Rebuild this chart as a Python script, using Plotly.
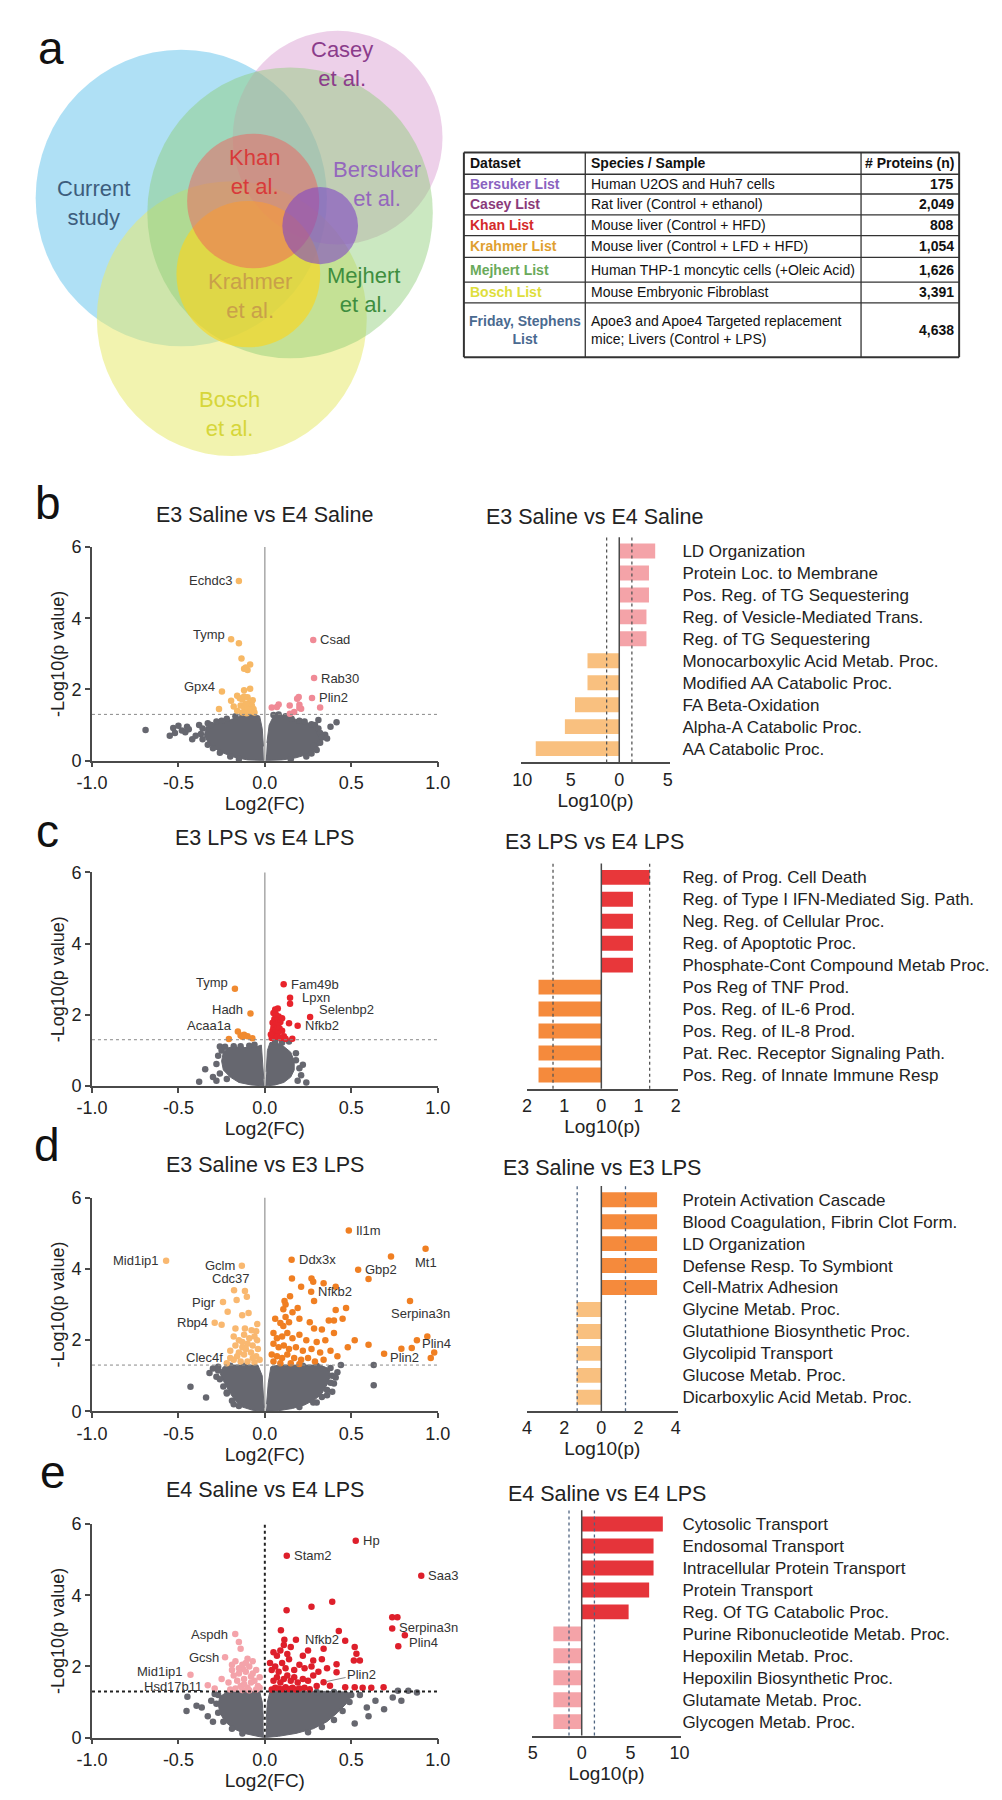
import plotly.graph_objects as go

W, H = 1002, 1800
def PX(p): return p / W
def PY(p): return 1 - p / H

FONT = "Liberation Sans, Arial, Helvetica, sans-serif"
TXT = "#222222"
AXC = "#4a4a4a"
GRAY = "#66676f"

# ============================ DATA ============================
# ---- panel a : table ----
table_headers = ["Dataset", "Species / Sample", "# Proteins (n)"]
table_datasets = ["Bersuker List", "Casey List", "Khan List", "Krahmer List",
                  "Mejhert List", "Bosch List", "Friday, Stephens<br>List"]
table_samples = ["Human U2OS and Huh7 cells", "Rat liver (Control + ethanol)",
                 "Mouse liver (Control + HFD)", "Mouse liver (Control + LFD + HFD)",
                 "Human THP-1 moncytic cells (+Oleic Acid)", "Mouse Embryonic Fibroblast",
                 "Apoe3 and Apoe4 Targeted replacement<br>mice; Livers (Control + LPS)"]
table_counts = ["175", "2,049", "808", "1,054", "1,626", "3,391", "4,638"]

# ---- panel a : venn sets ----
venn_labels = ["Current<br>study", "Bosch<br>et al.", "Casey<br>et al.", "Mejhert<br>et al.",
               "Krahmer<br>et al.", "Khan<br>et al.", "Bersuker<br>et al."]

# ---- volcano b : E3 Saline vs E4 Saline ----
b_dn_x = [-0.15, -0.195, -0.15, -0.135, -0.085, -0.12, -0.10, -0.11, -0.085, -0.12, -0.248, -0.195,
          -0.16, -0.145, -0.13, -0.12, -0.10, -0.09, -0.075, -0.065, -0.14, -0.12, -0.10, -0.085,
          -0.06, -0.16, -0.13, -0.11, -0.265, -0.18, -0.07, -0.105]
b_dn_y = [5.05, 3.41, 3.30, 2.87, 2.70, 2.58, 2.55, 2.62, 2.02, 1.98, 1.94, 1.68,
          1.82, 1.75, 1.72, 1.80, 1.78, 1.62, 1.55, 1.45, 1.55, 1.50, 1.45, 1.38,
          1.35, 1.40, 1.35, 1.60, 1.45, 1.52, 1.70, 1.33]
b_dn_lab = ["Echdc3", "Tymp"] + [""] * 8 + ["Gpx4"] + [""] * 21
b_up_x = [0.28, 0.285, 0.273, 0.196, 0.187, 0.144, 0.20, 0.21, 0.17, 0.145, 0.07, 0.04, 0.08, 0.32, 0.20]
b_up_y = [3.39, 2.32, 1.76, 1.79, 1.74, 1.55, 1.57, 1.46, 1.37, 1.32, 1.51, 1.49, 1.58, 1.49, 1.48]
b_up_lab = ["Csad", "Rab30", "Plin2"] + [""] * 12
b_ns_x = [-0.69, -0.55, -0.53, -0.50, -0.48, -0.46, -0.52, -0.45, -0.40, -0.38, -0.42, -0.44,
          -0.33, -0.28, -0.22, -0.17, -0.13, -0.09, -0.36, -0.37, -0.36, -0.33, -0.30, -0.26, -0.20,
          -0.15, -0.31, -0.25,
          0.415, 0.31, 0.349, 0.283, 0.08, 0.12, 0.155, 0.20, 0.23, 0.27, 0.29, 0.31, 0.32, 0.33,
          0.32, 0.30, 0.27, 0.24, 0.15, 0.36, 0.38, 0.05]
b_ns_y = [0.86, 0.70, 0.92, 0.98, 0.85, 0.80, 0.78, 0.95, 0.70, 1.00, 0.60, 0.88,
          1.05, 1.10, 1.18, 1.25, 1.30, 1.28, 0.90, 0.75, 0.60, 0.45, 0.35, 0.22, 0.12,
          0.05, 1.00, 1.12,
          1.08, 1.14, 0.73, 0.41, 1.30, 1.25, 1.18, 1.12, 1.10, 1.02, 1.00, 0.90, 0.78, 0.65,
          0.50, 0.30, 0.20, 0.12, 0.04, 0.62, 0.95, 1.28]
b_core_x = [-0.005, -0.10, -0.18, -0.26, -0.32, -0.35, -0.34, -0.28, -0.20, -0.12, -0.06, -0.03,
            -0.015, -0.008, None,
            0.005, 0.10, 0.18, 0.25, 0.30, 0.33, 0.33, 0.30, 0.24, 0.16, 0.09, 0.05, 0.025, 0.012]
b_core_y = [0.0, 0.02, 0.10, 0.25, 0.45, 0.70, 0.95, 1.05, 1.15, 1.28, 1.30, 1.25, 0.90, 0.40, None,
            0.0, 0.02, 0.08, 0.18, 0.35, 0.55, 0.75, 0.95, 1.08, 1.18, 1.28, 1.25, 1.00, 0.50]

# ---- volcano c : E3 LPS vs E4 LPS ----
c_dn_x = [-0.173, -0.083, -0.156, -0.208, -0.14, -0.12, -0.10, -0.072, -0.13]
c_dn_y = [2.73, 2.04, 1.53, 1.32, 1.42, 1.44, 1.40, 1.34, 1.38]
c_dn_lab = ["Tymp", "Hadh", "Acaa1a"] + [""] * 6
c_up_x = [0.109, 0.146, 0.146, 0.262, 0.19, 0.14, 0.159, 0.06, 0.075, 0.05, 0.065, 0.08, 0.055, 0.07,
          0.09, 0.045, 0.06, 0.075, 0.05, 0.065, 0.085, 0.10, 0.045, 0.06, 0.075, 0.05, 0.07, 0.09,
          0.11, 0.12, 0.04, 0.10, 0.035]
c_up_y = [2.86, 2.48, 2.31, 1.94, 1.69, 1.76, 1.33, 2.15, 2.18, 2.05, 2.00, 1.95, 1.88, 1.85,
          1.80, 1.78, 1.72, 1.70, 1.65, 1.60, 1.62, 1.55, 1.55, 1.50, 1.48, 1.42, 1.38, 1.35,
          1.40, 1.33, 1.35, 1.90, 1.45]
c_up_lab = ["Fam49b", "Lpxn", "", "Selenbp2", "Nfkb2"] + [""] * 28
c_ns_x = [-0.345, -0.26, -0.30, -0.28, -0.27, -0.25, -0.23, -0.18, -0.14, -0.09, -0.06, -0.38, -0.28,
          -0.26, -0.22, 0.18, 0.20, 0.21, 0.19, 0.18, 0.14, 0.10, 0.06, 0.24, 0.22]
c_ns_y = [0.47, 1.11, 0.25, 0.62, 0.85, 1.00, 1.10, 1.12, 1.12, 1.13, 1.16, 0.12, 0.15,
          0.35, 0.20, 0.72, 0.50, 0.30, 0.15, 0.92, 1.25, 1.22, 1.25, 0.10, 0.60]
c_core_x = [-0.004, -0.08, -0.15, -0.20, -0.24, -0.25, -0.24, -0.21, -0.12, -0.05, -0.02, -0.012,
            -0.006, None,
            0.004, 0.06, 0.11, 0.15, 0.17, 0.17, 0.15, 0.10, 0.06, 0.03, 0.015, 0.008]
c_core_y = [0.0, 0.03, 0.10, 0.25, 0.45, 0.70, 0.95, 1.08, 1.08, 1.10, 1.15, 0.70, 0.20, None,
            0.0, 0.03, 0.10, 0.25, 0.45, 0.70, 0.95, 1.15, 1.22, 1.22, 1.00, 0.40]

# ---- volcano d : E3 Saline vs E3 LPS ----
d_dn_x = [-0.571, -0.133, -0.178, -0.115, -0.242, -0.29, -0.25, -0.163, -0.104, -0.215, -0.131, -0.094,
          -0.044, -0.17, -0.115, -0.077, -0.20, -0.18, -0.15, -0.12, -0.09, -0.06, -0.17, -0.13, -0.10,
          -0.07, -0.04, -0.15, -0.12, -0.08, -0.05, -0.18, -0.14, -0.10, -0.06, -0.03, -0.16, -0.11,
          -0.07, -0.20, -0.13, -0.045, -0.05, -0.22]
d_dn_y = [4.23, 4.09, 3.40, 3.38, 3.07, 2.49, 2.43, 3.13, 3.22, 2.80, 2.70, 2.76,
          2.45, 2.33, 2.33, 2.28, 1.50, 2.10, 2.00, 2.15, 2.05, 2.10, 1.85, 1.80, 1.90,
          1.85, 1.75, 1.65, 1.60, 1.65, 1.55, 1.45, 1.40, 1.40, 1.38, 1.45, 1.55, 1.75,
          1.50, 1.70, 1.95, 2.00, 2.25, 1.35]
d_dn_lab = ["Mid1ip1", "Gclm", "Cdc37", "", "Pigr", "Rbp4"] + [""] * 10 + ["Clec4f"] + [""] * 27
d_up_x = [0.486, 0.155, 0.54, 0.93, 0.73, 0.60, 0.268, 0.84, 0.88, 0.69,
          0.157, 0.27, 0.28, 0.34, 0.41, 0.21, 0.146, 0.114, 0.12, 0.16, 0.107, 0.19, 0.285, 0.41,
          0.47, 0.26, 0.37, 0.40, 0.45, 0.09, 0.107, 0.14, 0.285, 0.40, 0.60, 0.85, 0.79, 0.96,
          0.05, 0.07, 0.10, 0.13, 0.16, 0.20, 0.24, 0.30, 0.35, 0.05, 0.08, 0.11, 0.14, 0.18, 0.22,
          0.27, 0.32, 0.38, 0.04, 0.07, 0.10, 0.13, 0.17, 0.21, 0.25, 0.29, 0.34, 0.05, 0.09, 0.15,
          0.20, 0.42, 0.48, 0.52, 0.94, 0.98, 0.12, 0.06, 0.20, 0.33]
d_up_y = [5.08, 4.26, 3.98, 4.57, 4.35, 3.72, 3.36, 3.10, 2.00, 1.62,
          3.73, 3.73, 3.64, 3.60, 3.50, 3.50, 3.23, 3.10, 3.00, 2.78, 2.87, 2.90, 3.10, 2.85,
          2.90, 2.50, 2.55, 2.55, 2.60, 2.48, 2.40, 2.50, 2.33, 2.20, 1.87, 1.78, 1.76, 1.50,
          2.20, 2.05, 2.10, 2.20, 2.05, 2.15, 2.00, 1.95, 2.00, 1.90, 1.80, 1.85, 1.75, 1.80, 1.70,
          1.75, 1.65, 1.70, 1.60, 1.55, 1.50, 1.60, 1.50, 1.45, 1.50, 1.40, 1.45, 1.40, 1.35, 1.35,
          1.33, 1.55, 1.80, 2.00, 2.10, 1.65, 2.65, 2.60, 2.60, 2.30]
d_up_lab = ["Il1m", "Ddx3x", "Gbp2", "Mt1", "", "", "Nfkb2", "Serpina3n", "Plin4", "Plin2"] + [""] * 68
d_ns_x = [-0.43, -0.34, -0.32, -0.28, -0.22, -0.30, -0.27, -0.18, -0.27, -0.26, -0.24, -0.22, -0.19,
          -0.15, -0.20, -0.12,
          0.63, 0.63, 0.44, 0.40, 0.39, 0.42, 0.41, 0.36, 0.30, 0.38, 0.39, 0.38, 0.36, 0.33, 0.28,
          0.20, 0.30, 0.22]
d_ns_y = [0.69, 0.39, 1.08, 0.97, 0.53, 1.20, 1.25, 0.20, 1.15, 0.90, 0.70, 0.50, 0.30,
          0.15, 1.28, 1.28,
          1.30, 0.73, 1.30, 0.78, 0.55, 1.10, 0.95, 0.45, 0.25, 1.22, 1.00, 0.80, 0.60, 0.40, 0.25,
          0.12, 1.28, 1.28]
d_core_x = [-0.004, -0.07, -0.13, -0.17, -0.20, -0.23, -0.25, -0.26, -0.24, -0.18, -0.10, -0.04,
            -0.015, -0.008, -0.004, None,
            0.006, 0.08, 0.16, 0.23, 0.29, 0.33, 0.36, 0.38, 0.37, 0.32, 0.20, 0.08, 0.035, 0.02, 0.01]
d_core_y = [0.0, 0.03, 0.12, 0.30, 0.50, 0.75, 0.95, 1.10, 1.25, 1.30, 1.30, 1.30, 1.00, 0.50, 0.10, None,
            0.0, 0.02, 0.08, 0.18, 0.33, 0.50, 0.75, 1.00, 1.20, 1.30, 1.30, 1.30, 1.25, 0.80, 0.20]

# ---- volcano e : E4 Saline vs E4 LPS ----
e_dn_x = [-0.171, -0.23, -0.43, -0.33, -0.15, -0.14, -0.10, -0.126, -0.25, -0.29,
          -0.19, -0.17, -0.15, -0.13, -0.11, -0.09, -0.07, -0.05, -0.03, -0.18, -0.16, -0.12,
          -0.08, -0.06, -0.04, -0.14, -0.10, -0.20, -0.17, -0.13, -0.09, -0.05, -0.11, -0.15,
          -0.07, -0.21, -0.19, -0.12, -0.08, -0.03]
e_dn_y = [2.91, 2.26, 1.77, 1.47, 2.69, 2.50, 2.22, 1.93, 1.65, 1.38,
          2.05, 2.15, 1.95, 2.05, 1.85, 2.00, 1.80, 1.90, 1.70, 1.75, 1.60, 1.65,
          1.55, 1.60, 1.45, 1.45, 1.40, 1.35, 1.38, 1.34, 1.33, 1.35, 2.10, 1.80,
          2.15, 1.55, 1.90, 1.50, 1.72, 1.40]
e_dn_lab = ["Aspdh", "Gcsh", "Mid1ip1", "Hsd17b11"] + [""] * 36
e_up_x = [0.526, 0.127, 0.905, 0.737, 0.772, 0.465, 0.34,
          0.126, 0.27, 0.39, 0.737, 0.767, 0.81, 0.093, 0.428, 0.113, 0.18, 0.52, 0.53, 0.515,
          0.55, 0.34, 0.25, 0.28, 0.415, 0.415, 0.465, 0.52, 0.566, 0.616, 0.687, 0.377,
          0.04, 0.06, 0.08, 0.10, 0.12, 0.14, 0.16, 0.18, 0.20, 0.23, 0.26, 0.30,
          0.05, 0.07, 0.09, 0.11, 0.13, 0.15, 0.17, 0.19, 0.22, 0.25, 0.28,
          0.04, 0.06, 0.08, 0.10, 0.12, 0.14, 0.17, 0.20, 0.23, 0.27, 0.31, 0.36,
          0.07, 0.09, 0.11, 0.13, 0.15, 0.03, 0.05, 0.22, 0.33]
e_up_y = [5.53, 5.11, 4.55, 3.07, 2.57, 2.72, 1.56,
          3.58, 3.68, 3.82, 3.38, 3.38, 2.88, 3.02, 3.00, 2.75, 2.75, 2.55, 2.36, 2.17,
          2.17, 2.50, 2.45, 2.17, 2.06, 1.84, 1.42, 1.42, 1.40, 1.40, 1.42, 1.46,
          1.35, 1.40, 1.38, 1.36, 1.42, 1.37, 1.40, 1.35, 1.38, 1.40, 1.36, 1.45,
          1.60, 1.70, 1.55, 1.65, 1.75, 1.60, 1.70, 1.55, 1.65, 1.60, 1.75,
          1.90, 2.00, 1.85, 2.10, 1.95, 2.20, 1.90, 2.05, 1.95, 2.00, 1.85, 1.95,
          2.30, 2.45, 2.60, 2.35, 2.55, 2.10, 2.40, 2.30, 2.20]
e_up_lab = ["Hp", "Stam2", "Saa3", "Serpina3n", "Plin4", "Nfkb2", "Plin2"] + [""] * 69
e_ns_x = [-0.448, -0.453, -0.395, -0.365, -0.29, -0.31, -0.33, -0.30, -0.27, -0.28, -0.27, -0.24,
          -0.19, -0.13, -0.20, -0.12,
          0.64, 0.69, 0.77, 0.88, 0.83, 0.59, 0.74, 0.79, 0.55, 0.60, 0.52, 0.50, 0.49, 0.45, 0.40,
          0.33, 0.25, 0.40, 0.30, 0.15]
e_ns_y = [1.15, 0.75, 0.90, 0.85, 1.23, 1.04, 0.60, 0.45, 1.20, 0.95, 0.70, 0.45,
          0.25, 0.12, 1.28, 1.28,
          1.04, 0.80, 1.32, 1.27, 1.32, 0.85, 1.13, 1.04, 1.20, 0.60, 0.40, 1.20, 1.00, 0.75, 0.50,
          0.30, 0.15, 1.28, 1.28, 1.28]
e_core_x = [-0.005, -0.06, -0.12, -0.18, -0.23, -0.26, -0.27, -0.26, -0.22, -0.10, -0.03, -0.015,
            -0.008, None,
            0.005, 0.08, 0.18, 0.28, 0.36, 0.42, 0.47, 0.50, 0.48, 0.35, 0.10, 0.03, 0.015, 0.008]
e_core_y = [0.0, 0.05, 0.12, 0.25, 0.45, 0.70, 0.95, 1.15, 1.28, 1.30, 1.30, 1.00, 0.50, None,
            0.0, 0.04, 0.12, 0.25, 0.45, 0.70, 0.95, 1.15, 1.28, 1.30, 1.30, 1.30, 1.00, 0.50]

# ---- GO bar charts ----
bar_b_terms = ["LD Organization", "Protein Loc. to Membrane", "Pos. Reg. of TG Sequestering",
               "Reg. of Vesicle-Mediated Trans.", "Reg. of TG Sequestering",
               "Monocarboxylic Acid Metab. Proc.", "Modified AA Catabolic Proc.", "FA Beta-Oxidation",
               "Alpha-A Catabolic Proc.", "AA Catabolic Proc."]
bar_b_vals = [3.7, 3.06, 3.06, 2.8, 2.8, -3.27, -3.27, -4.56, -5.6, -8.6]
bar_c_terms = ["Reg. of Prog. Cell Death", "Reg. of Type I IFN-Mediated Sig. Path.",
               "Neg. Reg. of Cellular Proc.", "Reg. of Apoptotic Proc.",
               "Phosphate-Cont Compound Metab Proc.", "Pos Reg of TNF Prod.", "Pos. Reg. of IL-6 Prod.",
               "Pos. Reg. of IL-8 Prod.", "Pat. Rec. Receptor Signaling Path.",
               "Pos. Reg. of Innate Immune Resp"]
bar_c_vals = [1.3, 0.85, 0.85, 0.85, 0.85, -1.69, -1.69, -1.69, -1.69, -1.69]
bar_d_terms = ["Protein Activation Cascade", "Blood Coagulation, Fibrin Clot Form.", "LD Organization",
               "Defense Resp. To Symbiont", "Cell-Matrix Adhesion", "Glycine Metab. Proc.",
               "Glutathione Biosynthetic Proc.", "Glycolipid Transport", "Glucose Metab. Proc.",
               "Dicarboxylic Acid Metab. Proc."]
bar_d_vals = [3.0, 3.0, 3.0, 3.0, 3.0, -1.33, -1.33, -1.33, -1.33, -1.33]
bar_e_terms = ["Cytosolic Transport", "Endosomal Transport", "Intracellular Protein Transport",
               "Protein Transport", "Reg. Of TG Catabolic Proc.", "Purine Ribonucleotide Metab. Proc.",
               "Hepoxilin Metab. Proc.", "Hepoxilin Biosynthetic Proc.", "Glutamate Metab. Proc.",
               "Glycogen Metab. Proc."]
bar_e_vals = [8.3, 7.35, 7.35, 6.9, 4.8, -2.9, -2.9, -2.9, -2.9, -2.9]

volcano_titles = ["E3 Saline vs E4 Saline", "E3 LPS vs E4 LPS", "E3 Saline vs E3 LPS", "E4 Saline vs E4 LPS"]
x_ticks = [-1.0, -0.5, 0.0, 0.5, 1.0]
y_ticks = [0, 2, 4, 6]
SIG = 1.3   # -log10(0.05)

# ============================ STYLE / LAYOUT ============================
fig = go.Figure()
shapes, annots = [], []

def aid(n):
    return "" if n == 1 else str(n)

def ann(px, py, text, size=14, color=TXT, xa="center", ya="middle", bold=False, align="left"):
    if bold:
        text = "<b>" + text + "</b>"
    annots.append(dict(x=PX(px), y=PY(py), xref="paper", yref="paper", text=text, showarrow=False,
                       xanchor=xa, yanchor=ya, align=align, font=dict(size=size, color=color, family=FONT)))

# ---- Venn (geometry: cx, cy, r in px; fill) ----
venn_geom = [(162, 182, 150, "rgba(110,198,236,0.55)"),
             (214, 304, 139, "rgba(232,234,110,0.55)"),
             (323, 121, 108, "rgba(214,150,206,0.45)"),
             (274, 197, 147, "rgba(140,204,118,0.45)"),
             (231, 259, 74, "rgba(255,214,20,0.60)"),
             (236, 185, 68, "rgba(240,96,92,0.50)"),
             (305, 210, 39, "rgba(128,70,196,0.60)")]
venn_label_pos = [(72, 187, "#3d5d7c"), (212, 400, "#d6d63a"), (327, 47, "#8b3c8b"),
                  (350, 275, "#3e8e3e"), (233, 281, "#c9a04a"), (237, 156, "#d83a3a"),
                  (364, 168, "#9467bd")]
for (cx, cy, r, col) in venn_geom:
    shapes.append(dict(type="circle", xref="paper", yref="paper", x0=PX(cx - r), x1=PX(cx + r),
                       y0=PY(cy + r), y1=PY(cy - r), fillcolor=col, line=dict(width=0), layer="below"))
for txt, (lx, ly, lc) in zip(venn_labels, venn_label_pos):
    ann(lx, ly, txt, size=22, color=lc, align="center")

# ---- table ----
col_x = [453, 578, 862, 963]
row_y = [136, 158, 178, 199, 220, 242, 267, 288, 343]
ds_colors = ["#8a63c0", "#8a3a7a", "#d42a2a", "#e0a030", "#6aaa5a", "#dede3c", "#4a6a90"]
for yv in row_y:
    w = 2 if yv in (row_y[0], row_y[-1]) else 1.3
    shapes.append(dict(type="line", xref="paper", yref="paper", x0=PX(col_x[0]), x1=PX(col_x[-1]),
                       y0=PY(yv), y1=PY(yv), line=dict(color="#333", width=w)))
for xv in col_x:
    w = 2 if xv in (col_x[0], col_x[-1]) else 1.3
    shapes.append(dict(type="line", xref="paper", yref="paper", x0=PX(xv), x1=PX(xv),
                       y0=PY(row_y[0]), y1=PY(row_y[-1]), line=dict(color="#333", width=w)))
hy = (row_y[0] + row_y[1]) / 2
ann(col_x[0] + 4, hy, table_headers[0], 14, "#111", "left", bold=True)
ann(col_x[1] + 4, hy, table_headers[1], 14, "#111", "left", bold=True)
ann(col_x[3] - 3, hy, table_headers[2], 14, "#111", "right", bold=True)
for i in range(len(table_datasets)):
    cy = (row_y[i + 1] + row_y[i + 2]) / 2
    if i == len(table_datasets) - 1:
        ann((col_x[0] + col_x[1]) / 2, cy, table_datasets[i], 14, ds_colors[i], "center", bold=True, align="center")
    else:
        ann(col_x[0] + 4, cy, table_datasets[i], 14, ds_colors[i], "left", bold=True)
    ann(col_x[1] + 4, cy, table_samples[i], 14, "#111", "left")
    ann(col_x[3] - 3, cy, table_counts[i], 14, "#111", "right", bold=True)

# panel letters
for letter, (lx, ly) in zip("abcde", [(28, 30), (25, 490), (24, 822), (24, 1140), (30, 1470)]):
    ann(lx, ly, letter, 46, "#111")

# ---- volcano panels ----
volc = [
    (b_core_x, b_core_y, b_ns_x, b_ns_y, b_dn_x, b_dn_y, b_dn_lab, b_up_x, b_up_y, b_up_lab),
    (c_core_x, c_core_y, c_ns_x, c_ns_y, c_dn_x, c_dn_y, c_dn_lab, c_up_x, c_up_y, c_up_lab),
    (d_core_x, d_core_y, d_ns_x, d_ns_y, d_dn_x, d_dn_y, d_dn_lab, d_up_x, d_up_y, d_up_lab),
    (e_core_x, e_core_y, e_ns_x, e_ns_y, e_dn_x, e_dn_y, e_dn_lab, e_up_x, e_up_y, e_up_lab),
]
volc_colors = [("#f7b865", "#f08a96"), ("#f08a30", "#e8242c"), ("#f9b870", "#f07f22"), ("#f4a3aa", "#de1f2b")]
volc_top = [535, 864, 1193, 1523]
VH = 216
title_y = [503, 829, 1160, 1489]
lab_style = {
    ("b", "Tymp"): ("right", "middle", -4, 5), ("b", "Gpx4"): ("right", "middle", -5, 5),
    ("c", "Tymp"): ("right", "middle", -5, 6), ("c", "Hadh"): ("right", "middle", -5, 4),
    ("c", "Acaa1a"): ("right", "middle", -4, 6), ("c", "Lpxn"): ("left", "middle", 10, 0),
    ("c", "Selenbp2"): ("left", "middle", 7, 7),
    ("d", "Cdc37"): ("center", "bottom", -3, 2), ("d", "Mt1"): ("center", "top", 0, -4),
    ("d", "Serpina3n"): ("center", "top", 10, -3), ("d", "Plin4"): ("left", "middle", 3, -3),
    ("d", "Plin2"): ("left", "middle", 4, -4),
    ("e", "Nfkb2"): ("right", "middle", -4, 1), ("e", "Plin4"): ("left", "middle", 9, 4),
    ("e", "Serpina3n"): ("left", "middle", 5, 1), ("e", "Hsd17b11"): ("right", "middle", -4, -1),
    ("e", "Mid1ip1"): ("right", "middle", -5, 3), ("e", "Gcsh"): ("right", "middle", -4, 0),
}
leader = {("e", "Plin2"): (38, -8)}
letters = "bcde"
for k, (cx_, cy_, nx, ny, dx, dy, dl, ux, uy, ul) in enumerate(volc):
    n = k + 1
    xa, ya = "x" + aid(n), "y" + aid(n)
    top = volc_top[k]
    fig.add_trace(go.Scatter(x=cx_, y=cy_, mode="lines", fill="toself", fillcolor=GRAY,
                             line=dict(width=1, color=GRAY), hoverinfo="skip", showlegend=False,
                             xaxis=xa, yaxis=ya))
    fig.add_trace(go.Scatter(x=nx, y=ny, mode="markers", marker=dict(size=6.5, color=GRAY),
                             showlegend=False, xaxis=xa, yaxis=ya, cliponaxis=False))
    fig.add_trace(go.Scatter(x=dx, y=dy, mode="markers", marker=dict(size=6.5, color=volc_colors[k][0]),
                             showlegend=False, xaxis=xa, yaxis=ya, cliponaxis=False))
    fig.add_trace(go.Scatter(x=ux, y=uy, mode="markers", marker=dict(size=6.5, color=volc_colors[k][1]),
                             showlegend=False, xaxis=xa, yaxis=ya, cliponaxis=False))
    for xs, ys, ls, side in ((dx, dy, dl, "L"), (ux, uy, ul, "R")):
        for xv, yv, lv in zip(xs, ys, ls):
            if not lv:
                continue
            key = (letters[k], lv)
            if key in leader:
                axp, ayp = leader[key]
                annots.append(dict(x=xv, y=yv, xref=xa, yref=ya, text=lv, showarrow=True,
                                   arrowhead=0, arrowwidth=1, arrowcolor="#888", ax=axp, ay=ayp,
                                   standoff=3, font=dict(size=13, color="#333", family=FONT)))
                continue
            st = lab_style.get(key, ("right", "middle", -5, 0) if side == "L" else ("left", "middle", 5, 0))
            annots.append(dict(x=xv, y=yv, xref=xa, yref=ya, text=lv, showarrow=False,
                               xanchor=st[0], yanchor=st[1], xshift=st[2], yshift=st[3],
                               font=dict(size=13, color="#333", family=FONT)))
    fig.layout["xaxis" + aid(n)] = dict(
        domain=[PX(70), PX(426)], range=[-1, 1], tickvals=x_ticks,
        ticktext=["%.1f" % t for t in x_ticks], anchor=ya, showline=True, linecolor=AXC, linewidth=1.5,
        ticks="outside", ticklen=5, tickwidth=1.5, tickcolor=AXC, showgrid=False, zeroline=False,
        tickfont=dict(size=18, color=TXT, family=FONT),
        title=dict(text="Log2(FC)", font=dict(size=19, color=TXT, family=FONT), standoff=2))
    fig.layout["yaxis" + aid(n)] = dict(
        domain=[PY(top + VH), PY(top)], range=[0, 6], tickvals=y_ticks, anchor=xa, showline=True,
        linecolor=AXC, linewidth=1.5, ticks="outside", ticklen=5, tickwidth=1.5, tickcolor=AXC,
        showgrid=False, zeroline=False, tickfont=dict(size=18, color=TXT, family=FONT),
        title=dict(text="-Log10(p value)", font=dict(size=18, color=TXT, family=FONT), standoff=2))
    last = (k == 3)
    shapes.append(dict(type="line", xref=xa, yref=ya + " domain", x0=0, x1=0, y0=0, y1=1,
                       line=dict(color="#222" if last else "#a8a8a8", width=2 if last else 1.5,
                                 dash="dot" if last else "solid"), layer="below"))
    shapes.append(dict(type="line", xref=xa + " domain", yref=ya, x0=0, x1=1, y0=SIG, y1=SIG,
                       line=dict(color="#222" if last else "#888", width=2 if last else 1, dash="dot"),
                       layer="above"))
    ann(248, title_y[k], volcano_titles[k], 21.5, TXT)

# ---- bar panels ----
bars = [(bar_b_terms, bar_b_vals), (bar_c_terms, bar_c_vals), (bar_d_terms, bar_d_vals), (bar_e_terms, bar_e_vals)]
bar_colors = [("#f4a3a8", "#f9c07f"), ("#e8373a", "#f58a3c"), ("#f58a3c", "#f9c07f"), ("#e5343a", "#f4a3a8")]
dot_colors = ["#555555", "#555555", "#4f6480", "#4f6480"]
bar_xdom = [(512, 665), (518, 673), (518, 673), (523, 677)]
bar_range = [(-10.1, 5.2), (-2, 2.05), (-4, 4.1), (-5.1, 10.2)]
bar_ticks = [[-10, -5, 0, 5], [-2, -1, 0, 1, 2], [-4, -2, 0, 2, 4], [-5, 0, 5, 10]]
bar_first = [539, 869, 1195, 1523]
bar_title_pos = [(588, 505), (588, 833), (595, 1163), (600, 1493)]
ROW = 22.2
for k, (terms, vals) in enumerate(bars):
    n = k + 5
    xa, ya = "x" + aid(n), "y" + aid(n)
    cols = [bar_colors[k][0] if v > 0 else bar_colors[k][1] for v in vals]
    fig.add_trace(go.Bar(x=vals, y=terms, orientation="h", marker=dict(color=cols, line=dict(width=0)),
                         width=0.68, showlegend=False, xaxis=xa, yaxis=ya))
    f = bar_first[k]
    top, bot = f - 14, f + 9 * ROW + 14
    fig.layout["xaxis" + aid(n)] = dict(
        domain=[PX(bar_xdom[k][0]), PX(bar_xdom[k][1])], range=list(bar_range[k]),
        tickvals=bar_ticks[k], ticktext=[str(abs(t)) for t in bar_ticks[k]], anchor=ya, showline=True,
        linecolor=AXC, linewidth=1.5, ticks="", showgrid=False, zeroline=False,
        tickfont=dict(size=18, color=TXT, family=FONT),
        title=dict(text="Log10(p)", font=dict(size=19, color=TXT, family=FONT), standoff=4))
    fig.layout["yaxis" + aid(n)] = dict(
        domain=[PY(bot), PY(top)], type="category", categoryorder="array", categoryarray=terms,
        range=[9 + 14 / ROW, -14 / ROW], side="right", anchor="free", position=PX(677),
        showline=False, ticks="", showgrid=False, zeroline=False,
        tickfont=dict(size=17, color=TXT, family=FONT))
    shapes.append(dict(type="line", xref=xa, yref=ya + " domain", x0=0, x1=0, y0=0, y1=1,
                       line=dict(color=AXC, width=1.5)))
    for s in (-SIG, SIG):
        shapes.append(dict(type="line", xref=xa, yref=ya + " domain", x0=s, x1=s, y0=0, y1=1,
                           line=dict(color=dot_colors[k], width=1.3, dash="dot")))
    ann(bar_title_pos[k][0], bar_title_pos[k][1], volcano_titles[k], 21.5, TXT)

fig.update_layout(width=W, height=H, margin=dict(l=0, r=0, t=0, b=0),
                  paper_bgcolor="white", plot_bgcolor="white", shapes=shapes, annotations=annots,
                  font=dict(family=FONT, color=TXT), bargap=0.3)
fig.write_html("out.html")
